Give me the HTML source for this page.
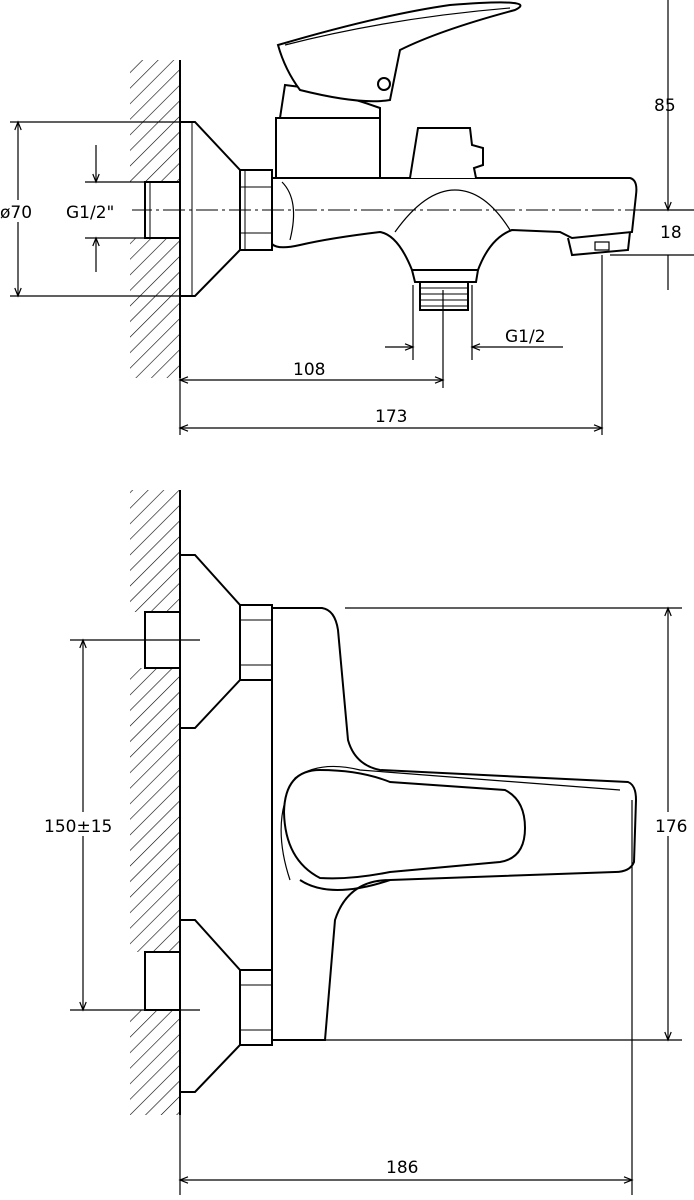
<!DOCTYPE html>
<html><head><meta charset="utf-8"><style>
html,body{margin:0;padding:0;background:#fff;}
svg{display:block}
text{font-family:"DejaVu Sans","Liberation Sans",sans-serif;font-size:17px;fill:#000}
</style></head><body>
<svg width="694" height="1200" viewBox="0 0 694 1200" xmlns="http://www.w3.org/2000/svg">
<defs>
<pattern id="h" width="11" height="11" patternUnits="userSpaceOnUse" patternTransform="rotate(45)">
<line x1="0" y1="0" x2="0" y2="11" stroke="#000" stroke-width="1.2"/>
</pattern>
<marker id="a" viewBox="0 0 10 10" refX="10" refY="5" markerWidth="12" markerHeight="8" orient="auto-start-reverse" markerUnits="userSpaceOnUse">
<path d="M0,1 L10,5 L0,9" fill="none" stroke="#000" stroke-width="1.5"/>
</marker>
</defs>
<g fill="none" stroke="#000" stroke-width="2">
<!-- TOP VIEW wall -->
<rect x="130" y="60" width="50" height="122" fill="url(#h)" stroke="none"/>
<rect x="130" y="238" width="50" height="140" fill="url(#h)" stroke="none"/>
<line x1="180" y1="60" x2="180" y2="378"/>
<rect x="145" y="182" width="35" height="56" fill="#fff"/>
<line x1="150" y1="182" x2="150" y2="238" stroke-width="1"/>
<!-- flange -->
<path d="M180,122 L195,122 L240,170 L240,250 L195,296 L180,296 Z" fill="#fff"/>
<line x1="192" y1="122" x2="192" y2="296" stroke-width="1"/>
<!-- nut -->
<rect x="240" y="170" width="32" height="80" fill="#fff"/>
<line x1="240" y1="187" x2="272" y2="187" stroke-width="1"/>
<line x1="240" y1="233" x2="272" y2="233" stroke-width="1"/>
<line x1="245" y1="170" x2="245" y2="250" stroke-width="1"/>
<!-- body & spout -->
<path d="M272,178 L630,178 Q638,180 636,195 L632,232 L572,238 L560,232 L512,230 Q490,238 478,270 L412,270 Q398,235 380,232 Q330,238 300,245 Q278,250 272,244 Z" fill="#fff"/>
<path d="M282,182 Q300,200 290,240" stroke-width="1.2"/>
<path d="M395,232 Q425,190 455,190 Q485,190 510,230" stroke-width="1.2"/>
<path d="M412,270 L415,282 L476,282 L478,270"/>
<rect x="420" y="282" width="48" height="28"/>
<g stroke-width="1"><line x1="420" y1="288" x2="468" y2="288"/><line x1="420" y1="294" x2="468" y2="294"/><line x1="420" y1="300" x2="468" y2="300"/><line x1="420" y1="306" x2="468" y2="306"/></g>
<path d="M568,238 L572,255 L628,250 L630,232"/>
<rect x="595" y="242" width="14" height="8" stroke-width="1.2"/>
<!-- diverter knob -->
<path d="M410,178 L418,128 L470,128 L472,145 L483,148 L483,165 L474,168 L476,178" fill="#fff"/>
<!-- column & handle -->
<rect x="276" y="118" width="104" height="60" fill="#fff"/>
<path d="M280,118 L285,85 Q330,90 380,108 L380,118"/>
<path d="M278,45 Q380,15 450,5 Q540,-2 515,10 Q440,30 400,50 L390,100 Q360,105 300,90 Q285,70 278,45 Z" fill="#fff"/>
<path d="M285,45 Q390,18 510,8" stroke-width="1.2"/>
<circle cx="384" cy="84" r="6"/>
<!-- center line -->
<line x1="130" y1="210" x2="694" y2="210" stroke-width="1" stroke-dasharray="22,4,3,4"/>
<!-- dims top -->
<g stroke-width="1.2">
<line x1="10" y1="122" x2="180" y2="122"/><line x1="10" y1="296" x2="180" y2="296"/>
<line x1="18" y1="122" x2="18" y2="296" marker-start="url(#a)" marker-end="url(#a)"/>
<line x1="85" y1="182" x2="145" y2="182"/><line x1="85" y1="238" x2="145" y2="238"/>
<line x1="96" y1="145" x2="96" y2="182" marker-end="url(#a)"/>
<line x1="96" y1="272" x2="96" y2="238" marker-end="url(#a)"/>
<line x1="668" y1="0" x2="668" y2="210" marker-end="url(#a)"/>
<line x1="640" y1="210" x2="694" y2="210"/>
<line x1="610" y1="255" x2="694" y2="255"/>
<line x1="668" y1="255" x2="668" y2="290"/>
<line x1="413" y1="285" x2="413" y2="360"/><line x1="472" y1="285" x2="472" y2="360"/>
<line x1="385" y1="347" x2="413" y2="347" marker-end="url(#a)"/>
<line x1="563" y1="347" x2="472" y2="347" marker-end="url(#a)"/>
<line x1="180" y1="378" x2="180" y2="435"/>
<line x1="443" y1="290" x2="443" y2="388"/>
<line x1="602" y1="255" x2="602" y2="435"/>
<line x1="180" y1="380" x2="443" y2="380" marker-start="url(#a)" marker-end="url(#a)"/>
<line x1="180" y1="428" x2="602" y2="428" marker-start="url(#a)" marker-end="url(#a)"/>
</g>
<!-- BOTTOM VIEW wall -->
<rect x="130" y="490" width="50" height="122" fill="url(#h)" stroke="none"/>
<rect x="130" y="668" width="50" height="284" fill="url(#h)" stroke="none"/>
<rect x="130" y="1010" width="50" height="105" fill="url(#h)" stroke="none"/>
<line x1="180" y1="490" x2="180" y2="1115"/>
<rect x="145" y="612" width="35" height="56" fill="#fff"/>
<rect x="145" y="952" width="35" height="58" fill="#fff"/>
<path d="M180,555 L195,555 L240,605 L240,680 L195,728 L180,728 Z" fill="#fff"/>
<path d="M180,920 L195,920 L240,970 L240,1045 L195,1092 L180,1092 Z" fill="#fff"/>
<rect x="240" y="605" width="32" height="75" fill="#fff"/>
<rect x="240" y="970" width="32" height="75" fill="#fff"/>
<g stroke-width="1"><line x1="240" y1="620" x2="272" y2="620"/><line x1="240" y1="665" x2="272" y2="665"/><line x1="240" y1="985" x2="272" y2="985"/><line x1="240" y1="1030" x2="272" y2="1030"/></g>
<!-- body -->
<path d="M272,608 L322,608 Q335,610 338,630 L348,740 Q355,765 380,770 L628,782 Q636,785 636,800 L634,862 Q630,872 615,872 L390,880 Q348,880 335,920 L325,1040 L272,1040 Z" fill="#fff"/>
<path d="M290,880 Q270,820 295,778 Q320,760 360,770 L620,790" stroke-width="1.2"/>
<path d="M300,880 Q330,900 390,880"/>
<path d="M284,812 Q285,770 320,770 Q360,770 390,782 L505,790 Q525,800 525,828 Q525,858 500,862 L390,872 Q350,880 320,878 Q285,860 284,812 Z" fill="#fff"/>
<!-- dims bottom -->
<g stroke-width="1.2">
<line x1="70" y1="640" x2="200" y2="640"/><line x1="70" y1="1010" x2="200" y2="1010"/>
<line x1="83" y1="640" x2="83" y2="1010" marker-start="url(#a)" marker-end="url(#a)"/>
<line x1="345" y1="608" x2="682" y2="608"/><line x1="325" y1="1040" x2="682" y2="1040"/>
<line x1="668" y1="608" x2="668" y2="1040" marker-start="url(#a)" marker-end="url(#a)"/>
<line x1="180" y1="1115" x2="180" y2="1195"/><line x1="632" y1="800" x2="632" y2="1195"/>
<line x1="180" y1="1180" x2="632" y2="1180" marker-start="url(#a)" marker-end="url(#a)"/>
</g>
</g>
<rect x="0" y="200" width="44" height="22" fill="#fff"/>
<text x="0" y="218">ø70</text>
<rect x="64" y="200" width="68" height="22" fill="#fff"/>
<text x="66" y="218">G1/2"</text>
<text x="654" y="111">85</text>
<text x="660" y="238">18</text>
<text x="505" y="342">G1/2</text>
<text x="293" y="375">108</text>
<text x="375" y="422">173</text>
<rect x="40" y="812" width="86" height="24" fill="#fff"/>
<text x="44" y="832">150±15</text>
<rect x="652" y="812" width="42" height="24" fill="#fff"/>
<text x="655" y="832">176</text>
<text x="386" y="1173">186</text>
</svg>
</body></html>
